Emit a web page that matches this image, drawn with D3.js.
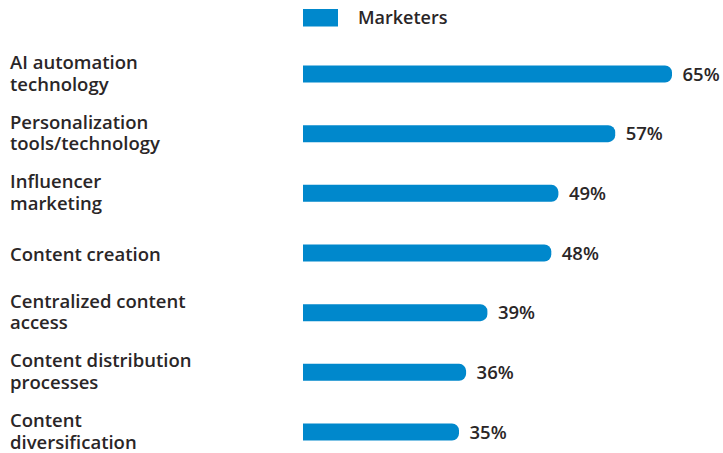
<!doctype html>
<html lang="en">
<head>
<meta charset="utf-8">
<title>Marketers bar chart</title>
<script src="https://cdn.jsdelivr.net/npm/d3@7/dist/d3.min.js"></script>
<style>
  body { margin: 0; background: #fff; }
  text { font-family: "Open Sans", sans-serif; fill: #2a2627; font-weight: 600; }
</style>
</head>
<body>
<div id="viz"></div>
<script>
// DATA
var categories = [
  ["AI automation", "technology"],
  ["Personalization", "tools/technology"],
  ["Influencer", "marketing"],
  ["Content creation"],
  ["Centralized content", "access"],
  ["Content distribution", "processes"],
  ["Content", "diversification"]
];
var marketers = [65, 57, 49, 48, 39, 36, 35];
var seriesName = "Marketers";

var w = 723, h = 453;
var barLeft = 303, barH = 17, radius = 7;
var lineH = 21.5;
var fontSize = "18.5px";

var svg = d3.select("#viz")
  .append("svg")
  .attr("width", w)
  .attr("height", h);

// SCALES
// the value axis starts left of the visible bar edge, bars are cut at barLeft
var xScale = d3.scaleLinear()
  .domain([0, 65])
  .range([210.5, 672]);

var yScale = d3.scalePoint()
  .domain(d3.range(categories.length))
  .range([74, 432]);

// rounded right end, square left end
function barPath(x0, x1, yc) {
  var y0 = yc - barH / 2, y1 = yc + barH / 2;
  return "M" + x0 + "," + y0 +
    "H" + (x1 - radius) +
    "A" + radius + "," + radius + " 0 0 1 " + x1 + "," + (y0 + radius) +
    "V" + (y1 - radius) +
    "A" + radius + "," + radius + " 0 0 1 " + (x1 - radius) + "," + y1 +
    "H" + x0 + "Z";
}

// LEGEND
svg.append("rect")
  .attr("x", barLeft)
  .attr("y", 9)
  .attr("width", 35)
  .attr("height", 17.5)
  .style("fill", "#0088cc");

svg.append("text")
  .attr("x", 358)
  .attr("y", 24)
  .style("font-size", "18px")
  .text(seriesName);

// BARS
svg.selectAll("path.bar")
  .data(marketers)
  .enter()
  .append("path")
  .attr("class", "bar")
  .attr("d", function(d, i) {
    return barPath(barLeft, xScale(d), yScale(i));
  })
  .style("fill", "#0088cc");

// VALUE LABELS
svg.selectAll("text.value")
  .data(marketers)
  .enter()
  .append("text")
  .attr("class", "value")
  .attr("x", function(d) { return xScale(d) + 10.5; })
  .attr("y", function(d, i) { return yScale(i) + 6.5; })
  .style("font-size", "18.5px")
  .text(function(d) { return d + "%"; });

// CATEGORY LABELS
var labels = svg.selectAll("text.cat")
  .data(categories)
  .enter()
  .append("text")
  .attr("class", "cat")
  .attr("x", 10)
  .attr("y", function(d, i) {
    return d.length > 1 ? yScale(i) - 5 : yScale(i) + 7.5;
  })
  .style("font-size", fontSize);

labels.selectAll("tspan")
  .data(function(d) { return d; })
  .enter()
  .append("tspan")
  .attr("x", 10)
  .attr("dy", function(d, j) { return j === 0 ? 0 : lineH; })
  .text(function(d) { return d; });
</script>
</body>
</html>
